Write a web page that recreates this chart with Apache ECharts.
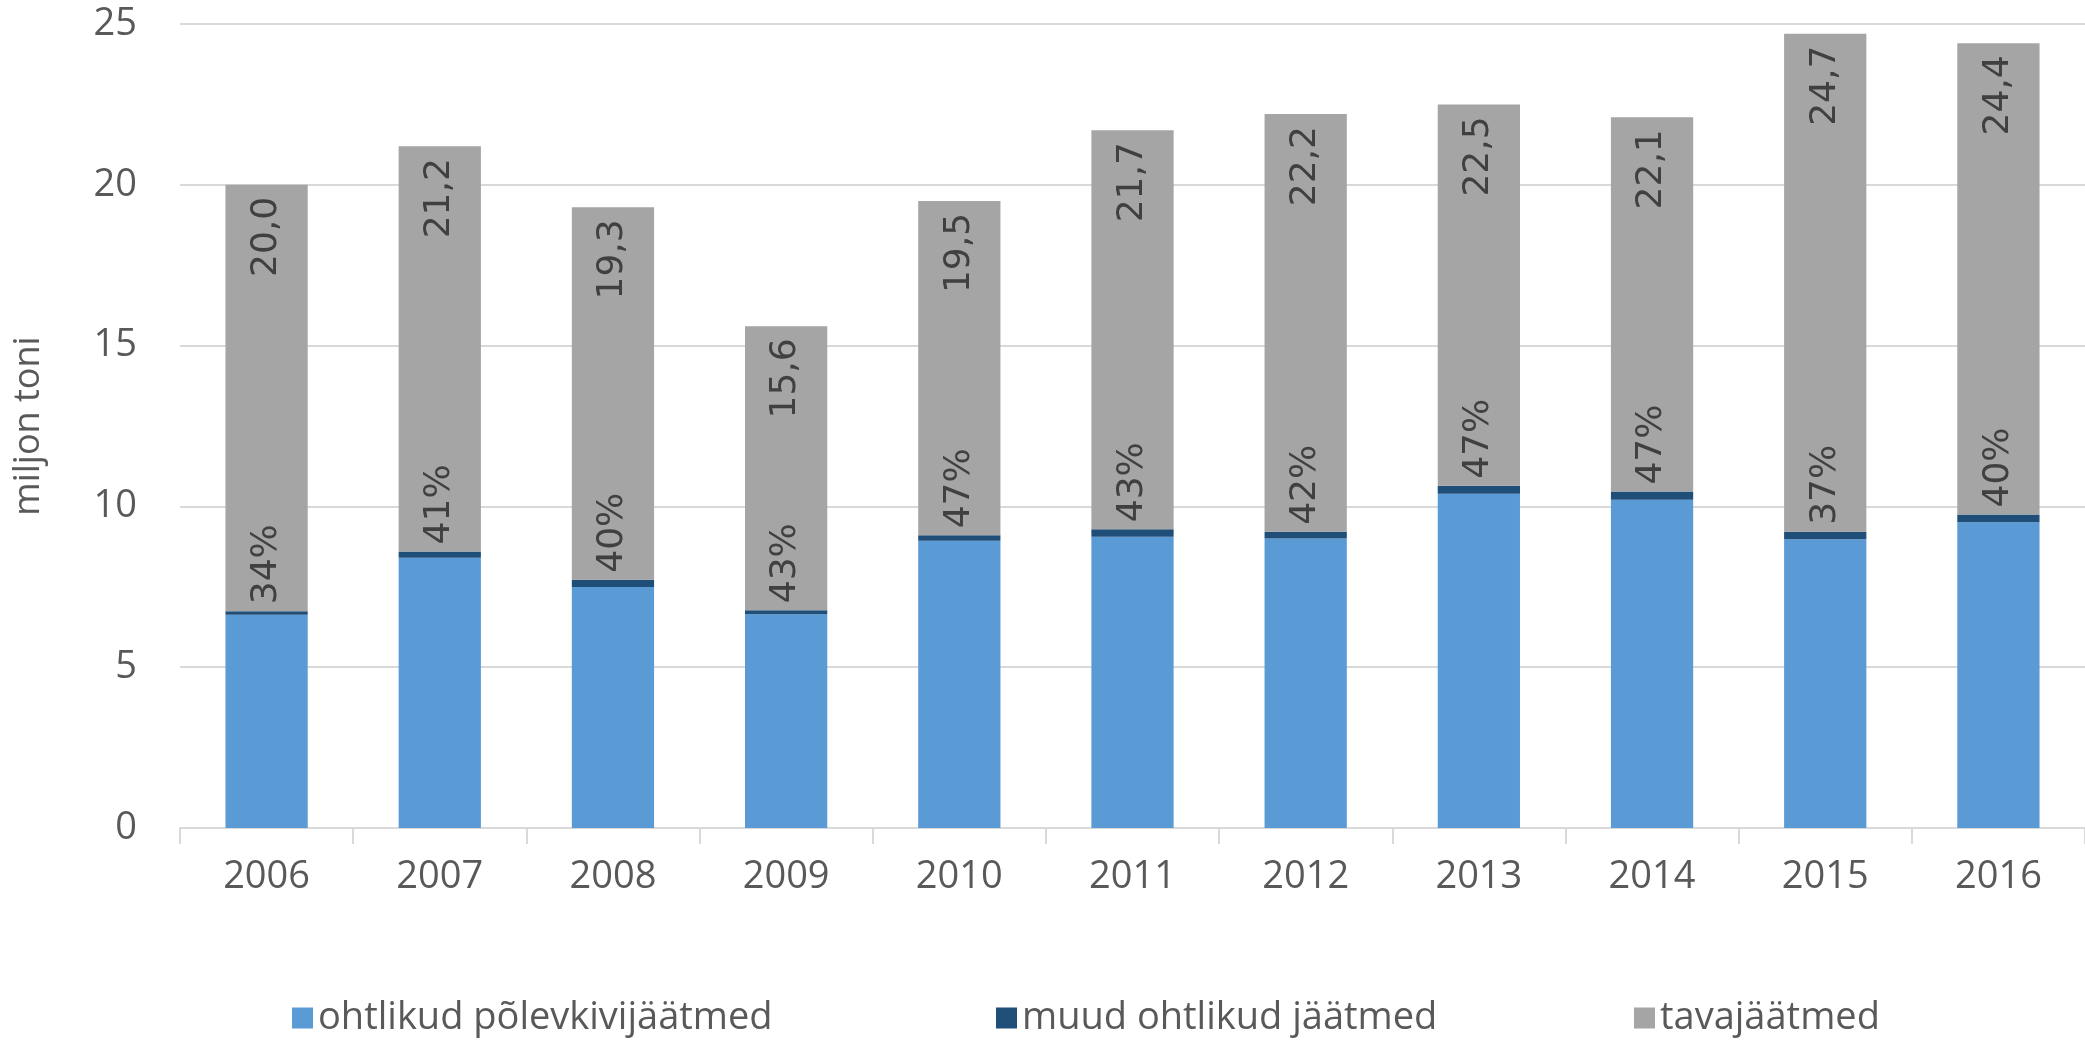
<!DOCTYPE html>
<html>
<head>
<meta charset="utf-8">
<script src="https://cdn.jsdelivr.net/npm/echarts@6/dist/echarts.min.js"></script>
<style>
  html, body { margin: 0; padding: 0; background: #fff; }
  #chart { width: 2085px; height: 1041px; }
</style>
</head>
<body>
<div id="chart"></div>
<script>
// andmed (miljon tonni)
var years = ['2006', '2007', '2008', '2009', '2010', '2011', '2012', '2013', '2014', '2015', '2016'];
var oilShaleWaste = [6.63, 8.40, 7.49, 6.65, 8.93, 9.06, 9.00, 10.39, 10.21, 8.98, 9.51];
var otherHazWaste = [0.11, 0.20, 0.23, 0.12, 0.17, 0.23, 0.21, 0.25, 0.25, 0.23, 0.24];
var totals = [20.0, 21.2, 19.3, 15.6, 19.5, 21.7, 22.2, 22.5, 22.1, 24.7, 24.4];
var hazShare = [34, 41, 40, 43, 47, 43, 42, 47, 47, 37, 40];
var yTicks = [0, 5, 10, 15, 20, 25];

var names = ['ohtlikud põlevkivijäätmed', 'muud ohtlikud jäätmed', 'tavajäätmed'];

// tavajäätmed = kokku - ohtlikud
var nonHazWaste = totals.map(function (t, i) {
  return +(t - oilShaleWaste[i] - otherHazWaste[i]).toFixed(2);
});

var axisFont = '"Liberation Sans Narrow", "Open Sans", sans-serif';
var labelFont = '"DejaVu Sans", Verdana, sans-serif';
var textColor = '#595959';

var chart = echarts.init(document.getElementById('chart'));

function legendAt(name, left) {
  return {
    data: [name],
    left: left,
    top: 994,
    itemWidth: 21,
    itemHeight: 21,
    icon: 'rect',
    textStyle: { fontFamily: axisFont, fontSize: 38, color: textColor }
  };
}

var option = {
  animation: false,
  legend: [
    legendAt(names[0], 287),
    legendAt(names[1], 991),
    legendAt(names[2], 1629)
  ],
  grid: { left: 180, right: 0, top: 24, bottom: 213 },
  xAxis: {
    type: 'category',
    data: years,
    axisLine: { lineStyle: { color: '#d9d9d9', width: 2 } },
    axisTick: { show: true, length: 16, lineStyle: { color: '#d9d9d9', width: 2 } },
    axisLabel: { margin: 30, fontFamily: axisFont, fontSize: 38, color: textColor }
  },
  yAxis: {
    type: 'value',
    min: yTicks[0],
    max: yTicks[yTicks.length - 1],
    interval: 5,
    name: 'miljon toni',
    nameLocation: 'middle',
    nameGap: 133,
    nameTextStyle: { fontFamily: axisFont, fontSize: 36, color: textColor },
    axisLine: { show: false },
    axisTick: { show: false },
    splitLine: { lineStyle: { color: '#d9d9d9', width: 2 } },
    axisLabel: { margin: 43, fontFamily: axisFont, fontSize: 38, color: textColor }
  },
  series: [
    {
      name: names[0],
      type: 'bar',
      stack: 'total',
      barWidth: '47.5%',
      itemStyle: { color: '#5b9bd5' },
      data: oilShaleWaste
    },
    {
      name: names[1],
      type: 'bar',
      stack: 'total',
      itemStyle: { color: '#1f4e79' },
      // ohtlike jäätmete osakaal
      label: {
        show: true,
        position: 'top',
        distance: 7,
        rotate: 90,
        align: 'left',
        verticalAlign: 'middle',
        fontFamily: labelFont,
        fontSize: 36,
        color: '#404040',
        formatter: function (p) { return hazShare[p.dataIndex] + '%'; }
      },
      data: otherHazWaste
    },
    {
      name: names[2],
      type: 'bar',
      stack: 'total',
      itemStyle: { color: '#a5a5a5' },
      // kokku
      label: {
        show: true,
        position: 'insideTop',
        distance: 12,
        rotate: 90,
        align: 'right',
        verticalAlign: 'middle',
        fontFamily: labelFont,
        fontSize: 36,
        color: '#404040',
        formatter: function (p) { return totals[p.dataIndex].toFixed(1).replace('.', ','); }
      },
      data: nonHazWaste
    }
  ]
};

chart.setOption(option);
</script>
</body>
</html>
